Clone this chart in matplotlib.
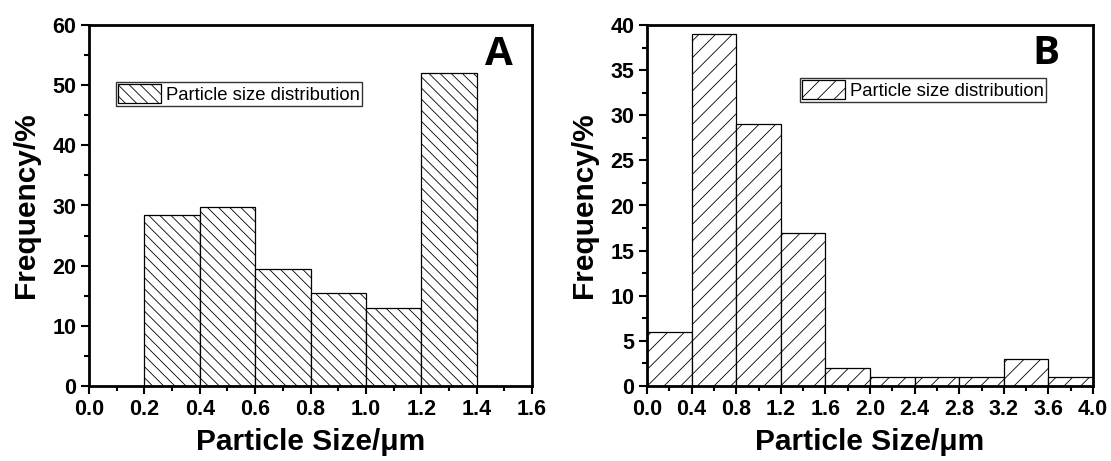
import numpy as np
import matplotlib
matplotlib.use('Agg')
import matplotlib.pyplot as plt
from matplotlib.ticker import MultipleLocator, AutoMinorLocator

# --- data ---
edges_a = [0.2, 0.4, 0.6, 0.8, 1.0, 1.2]
freq_a = [28.5, 29.8, 19.4, 15.5, 13.0, 52.0]
width_a = 0.2

edges_b = [0.0, 0.4, 0.8, 1.2, 1.6, 2.0, 2.4, 2.8, 3.2, 3.6]
freq_b = [6, 39, 29, 17, 2, 1, 1, 1, 3, 1]
width_b = 0.4

xticks_a = np.arange(0.0, 1.61, 0.2)
xticks_b = np.arange(0.0, 4.01, 0.4)

plt.rcParams.update({
    'font.family': ['Liberation Sans', 'DejaVu Sans'],
    'hatch.linewidth': 0.6,
    'hatch.color': '#444444',
})

fig = plt.figure(figsize=(11.11, 4.61), dpi=100)
W, H = 1111, 461
ax_a = fig.add_axes([89 / W, 1 - 386 / H, 443 / W, 361 / H])
ax_b = fig.add_axes([647 / W, 1 - 386 / H, 446 / W, 361 / H])


def style_axis(ax, xlim, ylim, xticks, ymajor):
    ax.set_xlim(*xlim)
    ax.set_ylim(*ylim)
    ax.set_xticks(xticks)
    ax.set_xticklabels([f"{t:.1f}" for t in xticks])
    ax.yaxis.set_major_locator(MultipleLocator(ymajor))
    ax.xaxis.set_minor_locator(AutoMinorLocator(2))
    ax.yaxis.set_minor_locator(AutoMinorLocator(2))
    ax.tick_params(which='major', direction='out', length=6, width=1.5, labelsize=15.5, pad=3)
    ax.tick_params(which='minor', direction='out', length=3.5, width=1.5)
    for lab in ax.get_xticklabels() + ax.get_yticklabels():
        lab.set_fontweight('bold')
    for sp in ax.spines.values():
        sp.set_linewidth(2)
    ax.set_xlabel('Particle Size/\u03bcm', fontsize=21.5, fontweight='bold', labelpad=6)
    ax.set_ylabel('Frequency/%', fontsize=21.5, fontweight='bold', labelpad=9)


def add_legend(ax, anchor):
    ax.legend(loc='upper left', bbox_to_anchor=anchor, fontsize=13.3, frameon=True,
              fancybox=False, edgecolor='#333333', framealpha=1, handlelength=2.3,
              handleheight=1.15, borderpad=0.12, handletextpad=0.3, borderaxespad=0)


ax_a.bar(edges_a, freq_a, width=width_a, align='edge', facecolor='white',
         edgecolor='black', linewidth=0.9, hatch='\\\\\\', label='Particle size distribution')
style_axis(ax_a, (0, 1.6), (0, 60), xticks_a, 10)
add_legend(ax_a, (0.061, 0.842))
ax_a.text(0.925, 0.917, 'A', transform=ax_a.transAxes, ha='center', va='center',
          fontsize=29, fontweight='bold', family=['Open Sans', 'DejaVu Sans'])

ax_b.bar(edges_b, freq_b, width=width_b, align='edge', facecolor='white',
         edgecolor='black', linewidth=0.9, hatch='//', label='Particle size distribution')
style_axis(ax_b, (0, 4.0), (0, 40), xticks_b, 5)
add_legend(ax_b, (0.343, 0.853))
ax_b.text(0.895, 0.922, 'B', transform=ax_b.transAxes, ha='center', va='center',
          fontsize=29, fontweight='bold', family=['Open Sans', 'DejaVu Sans'])

fig.savefig('out.png', dpi=100, facecolor='white')
